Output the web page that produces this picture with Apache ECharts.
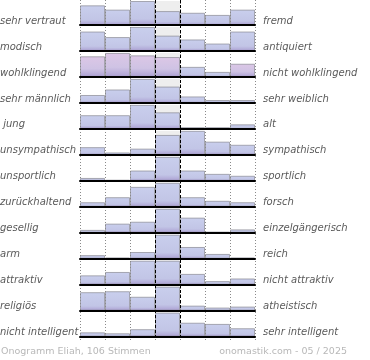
<!DOCTYPE html>
<html><head><meta charset="utf-8">
<script src="https://cdn.jsdelivr.net/npm/echarts@6/dist/echarts.min.js"></script>
<style>html,body{margin:0;padding:0;background:#fff}#c{width:370px;height:360px}</style>
</head><body><div id="c"></div>
<script>
const leftLabels = ['sehr vertraut','modisch','wohlklingend','sehr männlich',' jung','unsympathisch','unsportlich','zurückhaltend','gesellig','arm','attraktiv','religiös','nicht intelligent'];
const rightLabels = ['fremd','antiquiert','nicht wohlklingend','sehr weiblich','alt','sympathisch','sportlich','forsch','einzelgängerisch','reich','nicht attraktiv','atheistisch','sehr intelligent'];
const categories = ['1','2','3','4','5','6','7'];
const values = [
  [82, 64, 100, 58, 51, 42, 64],
  [81, 58, 100, 64, 48, 31, 81],
  [86, 100, 90, 83, 42, 21, 55],
  [33, 56, 100, 68, 27, 12, 12],
  [57, 57, 100, 69, 7, 7, 19],
  [32, 10, 26, 83, 100, 55, 42],
  [12, 4, 43, 100, 43, 29, 21],
  [19, 40, 83, 100, 40, 25, 19],
  [12, 38, 46, 100, 63, 4, 14],
  [15, 5, 28, 100, 49, 20, 5],
  [39, 53, 100, 100, 45, 15, 26],
  [77, 81, 58, 100, 21, 13, 17],
  [18, 14, 31, 100, 58, 53, 35]
];
const pinkCells = [[2,0],[2,1],[2,2],[2,3],[2,6]];
const neutralBg = [null, null, null, 100, null, null, null];

const blue = new echarts.graphic.LinearGradient(0,0,0,1,[
  {offset:0,color:'#c9cfed'},{offset:0.75,color:'#c2c5e6'},{offset:1,color:'#ab9fd2'}]);
const pink = new echarts.graphic.LinearGradient(0,0,0,1,[
  {offset:0,color:'#dcc7e6'},{offset:0.6,color:'#cfc3e4'},{offset:1,color:'#ab9fd2'}]);

const pitch = 25.97;
const grids = [], xAxes = [], yAxes = [], series = [], graphics = [];
values.forEach((row, i) => {
  const top = 1 + pitch * i;
  grids.push({left: 80, width: 175, top: top, height: 24});
  xAxes.push({type: 'category', gridIndex: i, data: categories,
    axisLine: {show: true, lineStyle: {color: '#000', width: 2}}, axisTick: {show: false},
    axisLabel: {show: false}, splitLine: {show: false}, z: 5});
  yAxes.push({type: 'value', gridIndex: i, min: 0, max: 100, show: false});
  series.push({type: 'bar', xAxisIndex: i, yAxisIndex: i, data: neutralBg,
    barCategoryGap: 0, barGap: '-100%', silent: true, z: 1,
    itemStyle: {color: '#eeeeee'}});
  series.push({type: 'bar', xAxisIndex: i, yAxisIndex: i,
    data: row.map((v, j) => {
      const isPink = pinkCells.some(p => p[0] === i && p[1] === j);
      return {value: v, itemStyle: {color: isPink ? pink : blue}};
    }),
    barCategoryGap: 0, barGap: '-100%', z: 2,
    itemStyle: {borderColor: 'rgba(130,130,140,0.65)', borderWidth: 1}});
  const cy = top + 19;
  graphics.push({type: 'text', left: 0, top: cy - 4, style: {text: leftLabels[i],
    font: 'italic 10px "DejaVu Sans"', fill: '#5a5a5a'}});
  graphics.push({type: 'text', left: 263, top: cy - 4, style: {text: rightLabels[i],
    font: 'italic 10px "DejaVu Sans"', fill: '#5a5a5a'}});
});
// vertical guide lines
const g1 = values.length, g2 = values.length + 1;
grids.push({left: 80, width: 175, top: 0, height: 340});
xAxes.push({type: 'value', gridIndex: g1, min: 0, max: 7, interval: 1, z: 3,
  axisLine: {show: false}, axisTick: {show: false}, axisLabel: {show: false},
  splitLine: {show: true, lineStyle: {color: '#8a8a8a', width: 1, type: [1, 2]}}});
yAxes.push({type: 'value', gridIndex: g1, show: false});
grids.push({left: 155, width: 25, top: 0, height: 340});
xAxes.push({type: 'value', gridIndex: g2, min: 0, max: 1, interval: 1, z: 10,
  axisLine: {show: false}, axisTick: {show: false}, axisLabel: {show: false},
  splitLine: {show: true, lineStyle: {color: '#000', width: 1, type: [3, 2]}}});
yAxes.push({type: 'value', gridIndex: g2, show: false});

graphics.push({type: 'text', left: 1, top: 347, style: {text: 'Onogramm Eliah, 106 Stimmen',
  font: '9.5px "DejaVu Sans"', fill: '#b8b8b8'}});
graphics.push({type: 'text', right: 23, top: 347, style: {text: 'onomastik.com - 05 / 2025',
  font: '9.5px "DejaVu Sans"', fill: '#b8b8b8'}});

const chart = echarts.init(document.getElementById('c'), null, {renderer: 'canvas'});
chart.setOption({
  animation: false,
  grid: grids, xAxis: xAxes, yAxis: yAxes, series: series, graphic: graphics
});
</script></body></html>
